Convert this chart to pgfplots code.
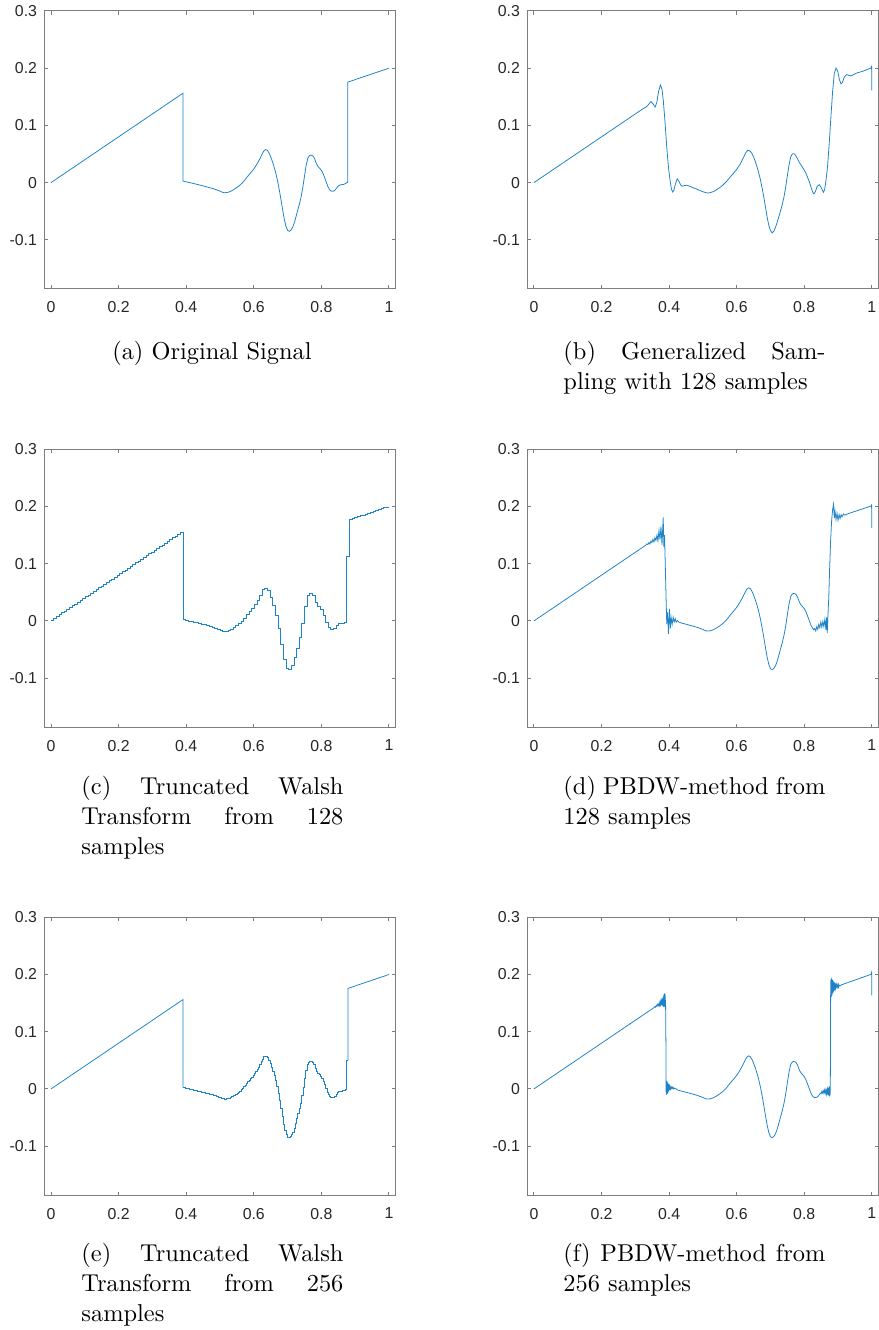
\documentclass[border=0pt]{standalone}
\usepackage{fontspec}
\usepackage{pgfplots}
\pgfplotsset{compat=1.18}
\newfontfamily\ticksf{Liberation Sans}
\definecolor{mblue}{RGB}{30,130,200}
\definecolor{axgray}{RGB}{125,125,125}
\definecolor{ticktext}{RGB}{38,38,38}
\pgfplotsset{panel/.style={scale only axis, width=144.07pt, height=113.98pt,
  anchor=north west,
  xmin=-0.02, xmax=1.02, ymin=-0.186, ymax=0.3,
  xtick={0,0.2,0.4,0.6,0.8,1}, xticklabels={0,0.2,0.4,0.6,0.8,1},
  ytick={-0.1,0,0.1,0.2,0.3}, yticklabels={-0.1,0,0.1,0.2,0.3},
  tick align=inside, tick pos=both, major tick length=1.45pt,
  every tick/.style={axgray, line width=0.4pt},
  axis line style={axgray, line width=0.4pt},
  tick label style={font=\ticksf\fontsize{6.5}{7.5}\selectfont, text=ticktext},
  xticklabel style={anchor=north, inner sep=0pt, yshift=-5.0pt},
  yticklabel style={anchor=east, inner sep=0pt, xshift=-2.8pt}},
  sig/.style={mblue, line width=0.32pt, mark=none}}
\newcommand{\jl}[1]{\makebox[107.4pt][s]{#1}}
\begin{document}
\begin{tikzpicture}
\useasboundingbox (0pt,0pt) rectangle (360.39pt,545.3pt);
% (a)
\begin{axis}[panel, at={(18.16pt,540.79pt)}]
\addplot[sig] coordinates {(0,0) (0.3906,0.15625) (0.3906,0.0025) (0.395,0.0020) (0.400,0.0013) (0.405,0.0007) (0.410,0.0000) (0.415,-0.0007) (0.420,-0.0014) (0.425,-0.0021) (0.430,-0.0028) (0.435,-0.0035) (0.440,-0.0043) (0.445,-0.0050) (0.450,-0.0058) (0.455,-0.0066) (0.460,-0.0074) (0.465,-0.0082) (0.470,-0.0090) (0.475,-0.0098) (0.480,-0.0107) (0.485,-0.0117) (0.490,-0.0127) (0.495,-0.0138) (0.500,-0.0150) (0.505,-0.0163) (0.510,-0.0174) (0.515,-0.0178) (0.520,-0.0174) (0.525,-0.0167) (0.530,-0.0157) (0.535,-0.0142) (0.540,-0.0125) (0.545,-0.0106) (0.550,-0.0085) (0.555,-0.0064) (0.560,-0.0040) (0.565,-0.0012) (0.570,0.0020) (0.575,0.0057) (0.580,0.0095) (0.585,0.0130) (0.590,0.0165) (0.595,0.0200) (0.600,0.0238) (0.605,0.0282) (0.610,0.0330) (0.615,0.0383) (0.620,0.0440) (0.625,0.0503) (0.630,0.0555) (0.635,0.0578) (0.640,0.0565) (0.645,0.0520) (0.650,0.0452) (0.655,0.0370) (0.660,0.0278) (0.665,0.0170) (0.670,0.0040) (0.675,-0.0110) (0.680,-0.0280) (0.685,-0.0460) (0.690,-0.0630) (0.695,-0.0760) (0.700,-0.0835) (0.705,-0.0852) (0.710,-0.0832) (0.715,-0.0782) (0.720,-0.0702) (0.725,-0.0595) (0.730,-0.0485) (0.735,-0.0378) (0.740,-0.0252) (0.745,-0.0092) (0.750,0.0108) (0.755,0.0298) (0.760,0.0428) (0.765,0.0474) (0.770,0.0480) (0.775,0.0466) (0.780,0.0420) (0.785,0.0335) (0.790,0.0282) (0.795,0.0250) (0.800,0.0215) (0.805,0.0160) (0.810,0.0082) (0.815,0.0002) (0.820,-0.0078) (0.825,-0.0128) (0.830,-0.0150) (0.835,-0.0151) (0.840,-0.0135) (0.845,-0.0097) (0.850,-0.0062) (0.855,-0.0042) (0.860,-0.0036) (0.865,-0.0034) (0.870,-0.0022) (0.875,-0.0002) (0.878,0.0008) (0.878,0.1756) (1,0.2)};
\end{axis}
% (b)
\begin{axis}[panel, at={(216.15pt,540.79pt)}]
\addplot[sig] coordinates {(0,0) (0.31,0.124) (0.32,0.128) (0.327,0.1305) (0.333,0.1325) (0.339,0.1365) (0.346,0.1415) (0.352,0.138) (0.3586,0.132) (0.364,0.141) (0.369,0.160) (0.3745,0.1705) (0.379,0.163) (0.383,0.142) (0.388,0.105) (0.393,0.062) (0.398,0.027) (0.403,0.003) (0.407,-0.0115) (0.4105,-0.0165) (0.414,-0.0135) (0.419,-0.002) (0.424,0.0065) (0.429,0.0025) (0.434,-0.004) (0.439,-0.0064) (0.445,-0.0052) (0.452,-0.0045) (0.46,-0.0062) (0.47,-0.0087) (0.48,-0.0110) (0.49,-0.0135) (0.50,-0.0160) (0.51,-0.0178) (0.515,-0.0182) (0.52,-0.0178) (0.53,-0.0160) (0.54,-0.0127) (0.55,-0.0087) (0.56,-0.0040) (0.57,0.0020) (0.58,0.0092) (0.59,0.0160) (0.60,0.0230) (0.61,0.0320) (0.62,0.0435) (0.627,0.0525) (0.6335,0.0566) (0.64,0.0550) (0.645,0.0510) (0.65,0.0450) (0.655,0.0370) (0.66,0.0280) (0.665,0.0175) (0.67,0.0055) (0.675,-0.0085) (0.68,-0.0245) (0.685,-0.0420) (0.69,-0.0600) (0.695,-0.0745) (0.70,-0.0840) (0.705,-0.0878) (0.71,-0.0850) (0.715,-0.0780) (0.72,-0.0690) (0.725,-0.0590) (0.73,-0.0490) (0.735,-0.0380) (0.74,-0.0250) (0.745,-0.0080) (0.75,0.0120) (0.755,0.0310) (0.76,0.0450) (0.765,0.0505) (0.77,0.0505) (0.775,0.0470) (0.78,0.0415) (0.785,0.0355) (0.79,0.0310) (0.795,0.0265) (0.80,0.0220) (0.805,0.0160) (0.81,0.0090) (0.815,0.0015) (0.82,-0.0080) (0.825,-0.0170) (0.829,-0.0198) (0.833,-0.0155) (0.838,-0.0070) (0.8445,-0.0035) (0.850,-0.0085) (0.8565,-0.0170) (0.860,-0.0130) (0.864,0.0020) (0.869,0.0285) (0.874,0.070) (0.879,0.116) (0.884,0.160) (0.889,0.1916) (0.894,0.2003) (0.899,0.1950) (0.904,0.1800) (0.9087,0.1725) (0.913,0.1750) (0.918,0.1840) (0.925,0.1888) (0.932,0.1875) (0.938,0.1865) (0.945,0.1885) (0.955,0.1915) (0.9626,0.1928) (0.975,0.1950) (0.99,0.1985) (0.9985,0.2005) (0.9993,0.2045) (1.0,0.161)};
\end{axis}
% (c)
\begin{axis}[panel, at={(18.16pt,361.08pt)}]
\addplot[sig, const plot] coordinates {(0,0.0016) (0.00781,0.0047) (0.01563,0.0078) (0.02344,0.0109) (0.03125,0.0141) (0.03906,0.0172) (0.04688,0.0203) (0.05469,0.0234) (0.0625,0.0266) (0.07031,0.0297) (0.07813,0.0328) (0.08594,0.0359) (0.09375,0.0391) (0.10156,0.0422) (0.10938,0.0453) (0.11719,0.0484) (0.125,0.0516) (0.13281,0.0547) (0.14063,0.0578) (0.14844,0.0609) (0.15625,0.0641) (0.16406,0.0672) (0.17188,0.0703) (0.17969,0.0734) (0.1875,0.0766) (0.19531,0.0797) (0.20313,0.0828) (0.21094,0.0859) (0.21875,0.0891) (0.22656,0.0922) (0.23438,0.0953) (0.24219,0.0984) (0.25,0.1016) (0.25781,0.1047) (0.26563,0.1078) (0.27344,0.1109) (0.28125,0.1141) (0.28906,0.1172) (0.29688,0.1203) (0.30469,0.1234) (0.3125,0.1266) (0.32031,0.1297) (0.32813,0.1328) (0.33594,0.1359) (0.34375,0.1391) (0.35156,0.1422) (0.35938,0.1453) (0.36719,0.1484) (0.375,0.1516) (0.38281,0.1547) (0.39063,0.0021) (0.39844,0.0010) (0.40625,0.0000) (0.41406,-0.0011) (0.42188,-0.0022) (0.42969,-0.0033) (0.4375,-0.0045) (0.44531,-0.0057) (0.45313,-0.0069) (0.46094,-0.0082) (0.46875,-0.0094) (0.47656,-0.0108) (0.48438,-0.0124) (0.49219,-0.0141) (0.5,-0.0160) (0.50781,-0.0176) (0.51563,-0.0175) (0.52344,-0.0162) (0.53125,-0.0142) (0.53906,-0.0114) (0.54688,-0.0081) (0.55469,-0.0047) (0.5625,-0.0003) (0.57031,0.0051) (0.57813,0.0109) (0.58594,0.0164) (0.59375,0.0220) (0.60156,0.0287) (0.60938,0.0365) (0.61719,0.0454) (0.625,0.0545) (0.63281,0.0576) (0.64063,0.0525) (0.64844,0.0413) (0.65625,0.0275) (0.66406,0.0092) (0.67188,-0.0137) (0.67969,-0.0410) (0.6875,-0.0670) (0.69531,-0.0825) (0.70313,-0.0845) (0.71094,-0.0785) (0.71875,-0.0645) (0.72656,-0.0475) (0.73438,-0.0295) (0.74219,-0.0050) (0.75,0.0255) (0.75781,0.0445) (0.76563,0.0480) (0.77344,0.0445) (0.78125,0.0332) (0.78906,0.0262) (0.79688,0.0205) (0.80469,0.0105) (0.8125,-0.0020) (0.82031,-0.0120) (0.82813,-0.0151) (0.83594,-0.0136) (0.84375,-0.0078) (0.85156,-0.0041) (0.85938,-0.0035) (0.86719,-0.0018) (0.875,0.1130) (0.88281,0.1773) (0.89063,0.1789) (0.89844,0.1805) (0.90625,0.1820) (0.91406,0.1836) (0.92188,0.1852) (0.92969,0.1867) (0.9375,0.1883) (0.94531,0.1898) (0.95313,0.1914) (0.96094,0.1930) (0.96875,0.1945) (0.97656,0.1961) (0.98438,0.1977) (0.99219,0.1992) (1,0.1992)};
\end{axis}
% (d)
\begin{axis}[panel, at={(216.15pt,361.08pt)}]
\addplot[sig] coordinates {(0,0) (0.330,0.132) (0.334,0.1345) (0.337,0.1335) (0.340,0.1370) (0.343,0.1345) (0.346,0.1395) (0.349,0.1370) (0.352,0.1425) (0.355,0.1380) (0.358,0.1455) (0.361,0.1405) (0.364,0.1500) (0.367,0.1400) (0.370,0.1580) (0.373,0.1420) (0.376,0.1650) (0.379,0.1330) (0.3825,0.1810) (0.3845,0.1300) (0.3865,0.1500) (0.389,0.0900) (0.391,0.0400) (0.393,-0.0050) (0.3955,0.0150) (0.398,-0.0225) (0.401,0.0210) (0.4035,-0.0130) (0.406,0.0060) (0.409,-0.0060) (0.412,0.0065) (0.415,-0.0020) (0.418,0.0040) (0.421,-0.0020) (0.425,0.0005) (0.430,-0.0025) (0.440,-0.0043) (0.445,-0.0050) (0.450,-0.0058) (0.455,-0.0066) (0.460,-0.0074) (0.465,-0.0082) (0.470,-0.0090) (0.475,-0.0098) (0.480,-0.0107) (0.485,-0.0117) (0.490,-0.0127) (0.495,-0.0138) (0.500,-0.0150) (0.505,-0.0163) (0.510,-0.0174) (0.515,-0.0178) (0.520,-0.0174) (0.525,-0.0167) (0.530,-0.0157) (0.535,-0.0142) (0.540,-0.0125) (0.545,-0.0106) (0.550,-0.0085) (0.555,-0.0064) (0.560,-0.0040) (0.565,-0.0012) (0.570,0.0020) (0.575,0.0057) (0.580,0.0095) (0.585,0.0130) (0.590,0.0165) (0.595,0.0200) (0.600,0.0238) (0.605,0.0282) (0.610,0.0330) (0.615,0.0383) (0.620,0.0440) (0.625,0.0503) (0.630,0.0555) (0.635,0.0578) (0.640,0.0565) (0.645,0.0520) (0.650,0.0452) (0.655,0.0370) (0.660,0.0278) (0.665,0.0170) (0.670,0.0040) (0.675,-0.0110) (0.680,-0.0280) (0.685,-0.0460) (0.690,-0.0630) (0.695,-0.0760) (0.700,-0.0835) (0.705,-0.0852) (0.710,-0.0832) (0.715,-0.0782) (0.720,-0.0702) (0.725,-0.0595) (0.730,-0.0485) (0.735,-0.0378) (0.740,-0.0252) (0.745,-0.0092) (0.750,0.0108) (0.755,0.0298) (0.760,0.0428) (0.765,0.0474) (0.770,0.0480) (0.775,0.0466) (0.780,0.0420) (0.785,0.0335) (0.790,0.0282) (0.795,0.0250) (0.800,0.0215) (0.805,0.0160) (0.810,0.0082) (0.815,0.0002) (0.820,-0.0078) (0.825,-0.0130) (0.828,-0.0155) (0.831,-0.0130) (0.834,-0.0175) (0.837,-0.0100) (0.840,-0.0150) (0.843,-0.0060) (0.846,-0.0120) (0.849,-0.0020) (0.852,-0.0110) (0.855,-0.0010) (0.858,-0.0100) (0.861,0.0030) (0.864,-0.0150) (0.866,0.0060) (0.868,-0.0215) (0.870,0.0090) (0.8725,0.0400) (0.875,0.0900) (0.878,0.1400) (0.881,0.1750) (0.884,0.1950) (0.8865,0.2040) (0.889,0.1800) (0.891,0.1920) (0.894,0.1770) (0.897,0.1880) (0.900,0.1760) (0.903,0.1860) (0.906,0.1790) (0.909,0.1855) (0.912,0.1820) (0.916,0.1870) (0.920,0.1850) (0.930,0.1875) (0.9985,0.2010) (0.9993,0.2035) (1.0,0.1620)};
\end{axis}
% (e)
\begin{axis}[panel, at={(18.16pt,169.2pt)}]
\addplot[sig] coordinates {(0,0) (0.39063,0.15625) (0.39063,0.0023)};
\addplot[sig, const plot] coordinates {(0.39063,0.0023) (0.39453,0.0018) (0.39844,0.0013) (0.40234,0.0008) (0.40625,0.0003) (0.41016,-0.0003) (0.41406,-0.0008) (0.41797,-0.0014) (0.42188,-0.0019) (0.42578,-0.0025) (0.42969,-0.0030) (0.43359,-0.0036) (0.4375,-0.0042) (0.44141,-0.0048) (0.44531,-0.0054) (0.44922,-0.0060) (0.45313,-0.0066) (0.45703,-0.0072) (0.46094,-0.0079) (0.46484,-0.0085) (0.46875,-0.0091) (0.47266,-0.0097) (0.47656,-0.0104) (0.48047,-0.0112) (0.48438,-0.0120) (0.48828,-0.0127) (0.49219,-0.0136) (0.49609,-0.0145) (0.5,-0.0155) (0.50391,-0.0165) (0.50781,-0.0174) (0.51172,-0.0177) (0.51563,-0.0176) (0.51953,-0.0172) (0.52344,-0.0166) (0.52734,-0.0158) (0.53125,-0.0148) (0.53516,-0.0135) (0.53906,-0.0121) (0.54297,-0.0106) (0.54688,-0.0090) (0.55078,-0.0074) (0.55469,-0.0056) (0.55859,-0.0037) (0.5625,-0.0015) (0.56641,0.0010) (0.57031,0.0036) (0.57422,0.0066) (0.57813,0.0096) (0.58203,0.0123) (0.58594,0.0150) (0.58984,0.0178) (0.59375,0.0205) (0.59766,0.0235) (0.60156,0.0268) (0.60547,0.0305) (0.60938,0.0344) (0.61328,0.0385) (0.61719,0.0430) (0.62109,0.0478) (0.625,0.0524) (0.62891,0.0560) (0.63281,0.0577) (0.63672,0.0570) (0.64063,0.0545) (0.64453,0.0500) (0.64844,0.0446) (0.65234,0.0383) (0.65625,0.0314) (0.66016,0.0233) (0.66406,0.0145) (0.66797,0.0042) (0.67188,-0.0072) (0.67578,-0.0204) (0.67969,-0.0340) (0.68359,-0.0478) (0.6875,-0.0614) (0.69141,-0.0724) (0.69531,-0.0800) (0.69922,-0.0839) (0.70313,-0.0852) (0.70703,-0.0836) (0.71094,-0.0803) (0.71484,-0.0754) (0.71875,-0.0688) (0.72266,-0.0603) (0.72656,-0.0518) (0.73047,-0.0433) (0.73438,-0.0347) (0.73828,-0.0246) (0.74219,-0.0121) (0.74609,0.0030) (0.75,0.0183) (0.75391,0.0323) (0.75781,0.0423) (0.76172,0.0462) (0.76563,0.0478) (0.76953,0.0476) (0.77344,0.0463) (0.77734,0.0430) (0.78125,0.0365) (0.78516,0.0312) (0.78906,0.0275) (0.79297,0.0251) (0.79688,0.0223) (0.80078,0.0186) (0.80469,0.0135) (0.80859,0.0074) (0.8125,0.0010) (0.81641,-0.0052) (0.82031,-0.0102) (0.82422,-0.0135) (0.82813,-0.0150) (0.83203,-0.0151) (0.83594,-0.0142) (0.83984,-0.0122) (0.84375,-0.0092) (0.84766,-0.0065) (0.85156,-0.0048) (0.85547,-0.0039) (0.85938,-0.0036) (0.86328,-0.0034) (0.86719,-0.0024) (0.87109,-0.0010) (0.875,0.0500) (0.87891,0.0500)};
\addplot[sig] coordinates {(0.87891,0.0500) (0.87891,0.17578) (1,0.2)};
\end{axis}
% (f)
\begin{axis}[panel, at={(216.15pt,169.2pt)}]
\addplot[sig] coordinates {(0,0) (0.355,0.1420) (0.358,0.1440) (0.360,0.1430) (0.362,0.1460) (0.364,0.1445) (0.366,0.1480) (0.368,0.1455) (0.370,0.1495) (0.3715,0.1460) (0.373,0.1520) (0.3745,0.1470) (0.376,0.1540) (0.377,0.1465) (0.378,0.1560) (0.379,0.1460) (0.380,0.1580) (0.381,0.1450) (0.382,0.1610) (0.383,0.1440) (0.384,0.1640) (0.385,0.1430) (0.386,0.1670) (0.387,0.1440) (0.388,0.1660) (0.389,0.1460) (0.3895,0.1550) (0.3905,0.0800) (0.391,-0.0050) (0.3915,0.0120) (0.392,-0.0100) (0.3925,0.0140) (0.393,-0.0090) (0.394,0.0130) (0.395,-0.0080) (0.396,0.0110) (0.397,-0.0060) (0.398,0.0090) (0.399,-0.0040) (0.400,0.0070) (0.401,-0.0020) (0.402,0.0050) (0.404,-0.0005) (0.406,0.0040) (0.408,0.0005) (0.410,0.0030) (0.412,0.0000) (0.414,0.0020) (0.417,0.0000) (0.420,0.0005) (0.425,-0.0018) (0.430,-0.0028) (0.440,-0.0043) (0.445,-0.0050) (0.450,-0.0058) (0.455,-0.0066) (0.460,-0.0074) (0.465,-0.0082) (0.470,-0.0090) (0.475,-0.0098) (0.480,-0.0107) (0.485,-0.0117) (0.490,-0.0127) (0.495,-0.0138) (0.500,-0.0150) (0.505,-0.0163) (0.510,-0.0174) (0.515,-0.0178) (0.520,-0.0174) (0.525,-0.0167) (0.530,-0.0157) (0.535,-0.0142) (0.540,-0.0125) (0.545,-0.0106) (0.550,-0.0085) (0.555,-0.0064) (0.560,-0.0040) (0.565,-0.0012) (0.570,0.0020) (0.575,0.0057) (0.580,0.0095) (0.585,0.0130) (0.590,0.0165) (0.595,0.0200) (0.600,0.0238) (0.605,0.0282) (0.610,0.0330) (0.615,0.0383) (0.620,0.0440) (0.625,0.0503) (0.630,0.0555) (0.635,0.0578) (0.640,0.0565) (0.645,0.0520) (0.650,0.0452) (0.655,0.0370) (0.660,0.0278) (0.665,0.0170) (0.670,0.0040) (0.675,-0.0110) (0.680,-0.0280) (0.685,-0.0460) (0.690,-0.0630) (0.695,-0.0760) (0.700,-0.0835) (0.705,-0.0852) (0.710,-0.0832) (0.715,-0.0782) (0.720,-0.0702) (0.725,-0.0595) (0.730,-0.0485) (0.735,-0.0378) (0.740,-0.0252) (0.745,-0.0092) (0.750,0.0108) (0.755,0.0298) (0.760,0.0428) (0.765,0.0474) (0.770,0.0480) (0.775,0.0466) (0.780,0.0420) (0.785,0.0335) (0.790,0.0282) (0.795,0.0250) (0.800,0.0215) (0.805,0.0160) (0.810,0.0082) (0.815,0.0002) (0.820,-0.0078) (0.825,-0.0128) (0.830,-0.0150) (0.835,-0.0151) (0.840,-0.0135) (0.845,-0.0097) (0.848,-0.0075) (0.850,-0.0085) (0.852,-0.0045) (0.854,-0.0070) (0.856,-0.0030) (0.858,-0.0075) (0.860,-0.0020) (0.862,-0.0080) (0.864,-0.0010) (0.866,-0.0090) (0.868,0.0000) (0.870,-0.0110) (0.8715,0.0020) (0.873,-0.0120) (0.874,0.0040) (0.875,-0.0130) (0.876,0.0050) (0.877,-0.0100) (0.8775,0.0600) (0.878,0.1600) (0.8785,0.1900) (0.879,0.1600) (0.880,0.1940) (0.881,0.1620) (0.882,0.1920) (0.883,0.1650) (0.884,0.1900) (0.885,0.1680) (0.886,0.1880) (0.887,0.1700) (0.888,0.1870) (0.889,0.1720) (0.890,0.1860) (0.891,0.1740) (0.892,0.1845) (0.893,0.1760) (0.895,0.1830) (0.897,0.1775) (0.899,0.1820) (0.900,0.1785) (0.901,0.1825) (0.902,0.1790) (0.903,0.1815) (0.906,0.1800) (0.910,0.1820) (0.915,0.1830) (0.9985,0.2005) (0.9993,0.2055) (1.0,0.1635)};
\end{axis}
% captions
\node[anchor=base, inner sep=0pt] at (86.9pt,397.7pt) {(a) Original Signal};
\node[anchor=base west, inner sep=0pt] at (230.83pt,397.7pt) {\jl{(b) Generalized Sam-}};
\node[anchor=base west, inner sep=0pt] at (230.83pt,385.4pt) {pling with 128 samples};
\node[anchor=base west, inner sep=0pt] at (33.2pt,219.35pt) {\jl{(c) Truncated Walsh}};
\node[anchor=base west, inner sep=0pt] at (33.2pt,207.05pt) {\jl{Transform from 128}};
\node[anchor=base west, inner sep=0pt] at (33.2pt,194.75pt) {samples};
\node[anchor=base west, inner sep=0pt] at (230.83pt,219.35pt) {\jl{(d) PBDW-method from}};
\node[anchor=base west, inner sep=0pt] at (230.83pt,207.05pt) {128 samples};
\node[anchor=base west, inner sep=0pt] at (33.2pt,27.88pt) {\jl{(e) Truncated Walsh}};
\node[anchor=base west, inner sep=0pt] at (33.2pt,15.58pt) {\jl{Transform from 256}};
\node[anchor=base west, inner sep=0pt] at (33.2pt,3.28pt) {samples};
\node[anchor=base west, inner sep=0pt] at (230.83pt,27.88pt) {\jl{(f) PBDW-method from}};
\node[anchor=base west, inner sep=0pt] at (230.83pt,15.58pt) {256 samples};
\end{tikzpicture}
\end{document}
